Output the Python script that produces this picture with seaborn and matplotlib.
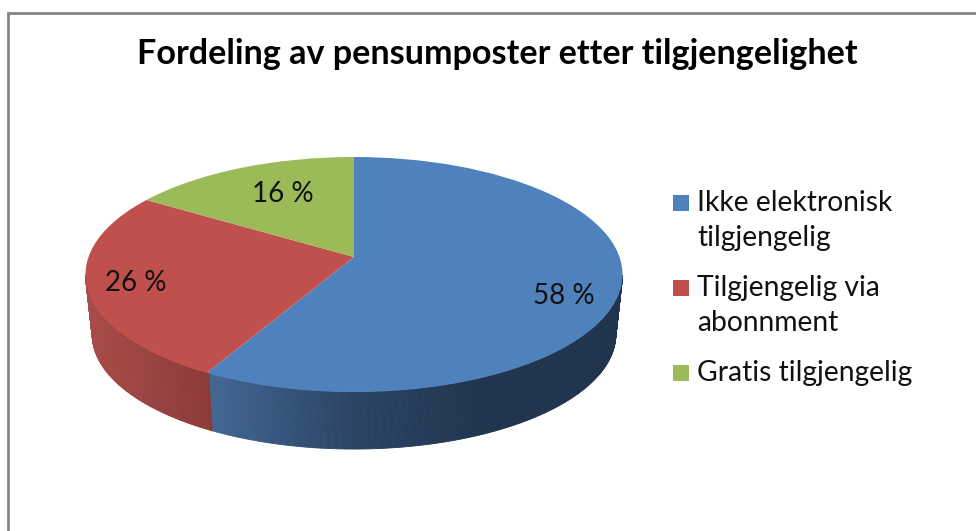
import matplotlib
matplotlib.use('Agg')
import matplotlib.pyplot as plt
from matplotlib.patches import Rectangle
from matplotlib.transforms import Transform
import seaborn as sns
import numpy as np

title = 'Fordeling av pensumposter etter tilgjengelighet'
categories = ['Ikke elektronisk\ntilgjengelig', 'Tilgjengelig via\nabonnment', 'Gratis tilgjengelig']
shares = [58, 26, 16]
slice_labels = ['58 %', '26 %', '16 %']

sns.set_theme(style='white')
plt.rcParams['font.family'] = ['Lato', 'DejaVu Sans']

top_colors = ['#4f81bd', '#c0504d', '#9bbb59']
wall_ramps = [
    sns.blend_palette(['#426794', '#2b4566', '#20344e', '#20344e'], as_cmap=True),
    sns.blend_palette(['#a84c49', '#8c3a38'], as_cmap=True),
    sns.blend_palette(['#7c9647', '#7c9647'], as_cmap=True),
]

# picture is laid out in pixels, the pie is tilted with a perspective view
CX, CY = 354, 257
A, B, K = 265.5, 114.9, 0.149
WALL_SCALE, WALL_Y = 0.975, 317.4
RIM_Y = 274.5
LEGEND_LINE = 35


def project(u, v):
    w = 1 + K * v
    return CX + A * u / w, CY - B * v / w


class PieView(Transform):
    input_dims = 2
    output_dims = 2
    is_separable = False

    def transform_non_affine(self, values):
        values = np.asarray(values)
        x, y = project(values[:, 0], values[:, 1])
        return np.column_stack([x, y])


fig = plt.figure(figsize=(9.76, 5.31), dpi=100)
ax = fig.add_axes([0, 0, 1, 1])
wedges, _ = ax.pie(shares, colors=top_colors, startangle=90, counterclock=False,
                   wedgeprops={'linewidth': 0, 'zorder': 5})
ax.set_aspect('auto')
ax.set_xlim(0, 976)
ax.set_ylim(531, 0)
ax.set_axis_off()

# side wall, thin strips under the front rim of every slice
for wedge, ramp in zip(wedges, wall_ramps):
    t = np.radians(np.arange(wedge.theta1, wedge.theta2 + 0.5, 0.5))
    xt, yt = project(np.cos(t), np.sin(t))
    xb = CX + (xt - CX) * WALL_SCALE
    yb = WALL_Y + (yt - CY) * WALL_SCALE
    front = yt > RIM_Y
    if not front.any():
        continue
    span = (xt[front].min(), xt[front].max())
    for i in range(len(t) - 1):
        if front[i] and front[i + 1]:
            frac = (xt[i] - span[0]) / max(span[1] - span[0], 1)
            ax.fill([xt[i], xt[i + 1], xb[i + 1], xb[i]],
                    [yt[i], yt[i + 1], yb[i + 1], yb[i]],
                    color=ramp(frac), linewidth=0.6, zorder=3)

view = PieView() + ax.transData
for wedge in wedges:
    wedge.set_transform(view)
    wedge.set_clip_on(False)

label_xy = [(564, 296), (136, 283), (283, 194)]
for txt, (x, y) in zip(slice_labels, label_xy):
    ax.text(x, y, txt, fontsize=20, color='#111111', ha='center', va='center', zorder=6)

ax.text(497, 54, title, fontsize=24.6, fontweight='bold', color='black',
        ha='center', va='center')

# legend by hand, the squares sit next to the first line of each label
legend_y = [211, 296, 381]
for label, color, y in zip(categories, top_colors, legend_y):
    ax.add_patch(Rectangle((673, y - 16), 15.5, 15.5, facecolor=color, edgecolor='none'))
    # baseline of a multi-line text is the one of its last line
    ax.text(697, y + LEGEND_LINE * label.count('\n'), label, fontsize=20.3, color='#111111',
            ha='left', va='baseline', linespacing=1.45)

# frame of the chart area, cut off at the right and bottom of the screenshot
ax.plot([7.5, 7.5, 976], [531, 12.5, 12.5], color='#858585', linewidth=2, solid_joinstyle='miter')

plt.savefig('out.png', dpi=100)
plt.close()
